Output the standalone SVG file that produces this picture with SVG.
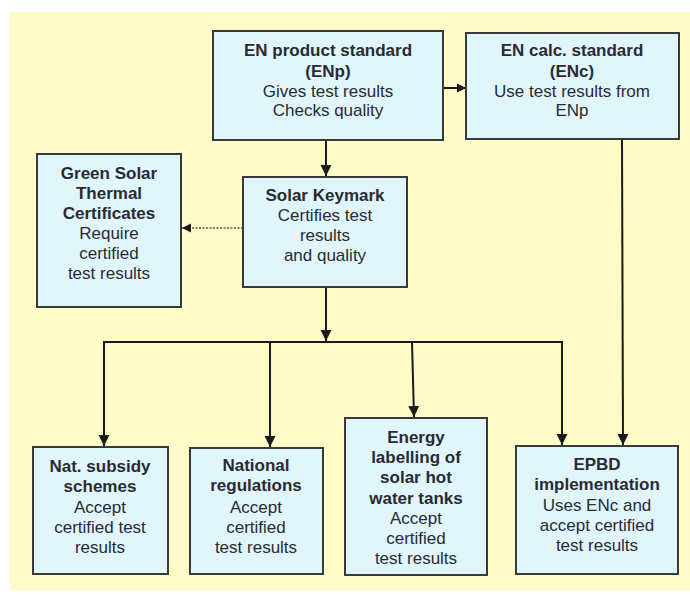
<svg xmlns="http://www.w3.org/2000/svg" width="690" height="595" viewBox="0 0 690 595">
<defs>
<marker id="ah" viewBox="0 0 10 10" refX="10" refY="5" markerUnits="userSpaceOnUse" markerWidth="11" markerHeight="12" orient="auto">
<path d="M0,0 L10,5 L0,10 z" fill="#1a1a1a"/>
</marker>
<marker id="ahs" viewBox="0 0 10 10" refX="10" refY="5" markerUnits="userSpaceOnUse" markerWidth="9" markerHeight="10" orient="auto">
<path d="M0,0 L10,5 L0,10 z" fill="#1a1a1a"/>
</marker>
<style>
.box{fill:#e0f6fb;stroke:#3a3a3a;stroke-width:2}
.t{font-family:"Liberation Sans",Arial,sans-serif;font-size:17px;fill:#2a2a35;text-anchor:middle}
.b{font-weight:bold}
.c{fill:none;stroke:#1a1a1a;stroke-width:2}
.d{fill:none;stroke:#555;stroke-width:1.5;stroke-dasharray:2 1.5}
</style>
</defs>
<rect x="10" y="12" width="680" height="578" fill="#fdfcc8"/>
<g id="connectors">
<line class="c" x1="443" y1="88" x2="466" y2="88" marker-end="url(#ahs)"/>
<line class="c" x1="326" y1="140" x2="326" y2="176" marker-end="url(#ah)"/>
<line class="d" x1="243" y1="228" x2="182" y2="228" marker-end="url(#ahs)"/>
<line class="c" x1="326" y1="287" x2="326" y2="341" marker-end="url(#ah)"/>
<polyline class="c" points="104,342 562,342 562,445" marker-end="url(#ah)"/>
<line class="c" x1="104" y1="341" x2="104" y2="446" marker-end="url(#ah)"/>
<line class="c" x1="270" y1="342" x2="270" y2="447" marker-end="url(#ah)"/>
<line class="c" x1="412" y1="342" x2="414" y2="417" marker-end="url(#ah)"/>
<line class="c" x1="622" y1="139" x2="623" y2="445" marker-end="url(#ah)"/>
</g>
<g id="enp">
<rect class="box" x="213" y="31" width="230" height="109"/>
<text class="t b" x="328" y="56">EN product standard</text>
<text class="t b" x="328" y="77">(ENp)</text>
<text class="t" x="328" y="97">Gives test results</text>
<text class="t" x="328" y="116">Checks quality</text>
</g>
<g id="enc">
<rect class="box" x="466" y="33" width="213" height="106"/>
<text class="t b" x="572" y="56">EN calc. standard</text>
<text class="t b" x="572" y="77">(ENc)</text>
<text class="t" x="572" y="97">Use test results from</text>
<text class="t" x="572" y="116">ENp</text>
</g>
<g id="keymark">
<rect class="box" x="243" y="177" width="164" height="110"/>
<text class="t b" x="325" y="201">Solar Keymark</text>
<text class="t" x="325" y="221">Certifies test</text>
<text class="t" x="325" y="241">results</text>
<text class="t" x="325" y="261">and quality</text>
</g>
<g id="green">
<rect class="box" x="37" y="154" width="144" height="153"/>
<text class="t b" x="109" y="179">Green Solar</text>
<text class="t b" x="109" y="199">Thermal</text>
<text class="t b" x="109" y="219">Certificates</text>
<text class="t" x="109" y="239">Require</text>
<text class="t" x="109" y="259">certified</text>
<text class="t" x="109" y="279">test results</text>
</g>
<g id="subsidy">
<rect class="box" x="33" y="447" width="135" height="127"/>
<text class="t b" x="100" y="472">Nat. subsidy</text>
<text class="t b" x="100" y="492">schemes</text>
<text class="t" x="100" y="513">Accept</text>
<text class="t" x="100" y="533">certified test</text>
<text class="t" x="100" y="553">results</text>
</g>
<g id="regulations">
<rect class="box" x="190" y="448" width="133" height="126"/>
<text class="t b" x="256" y="471">National</text>
<text class="t b" x="256" y="491">regulations</text>
<text class="t" x="256" y="513">Accept</text>
<text class="t" x="256" y="533">certified</text>
<text class="t" x="256" y="553">test results</text>
</g>
<g id="energy">
<rect class="box" x="345" y="418" width="142" height="157"/>
<text class="t b" x="416" y="443">Energy</text>
<text class="t b" x="416" y="463">labelling of</text>
<text class="t b" x="416" y="483">solar hot</text>
<text class="t b" x="416" y="504">water tanks</text>
<text class="t" x="416" y="524">Accept</text>
<text class="t" x="416" y="544">certified</text>
<text class="t" x="416" y="564">test results</text>
</g>
<g id="epbd">
<rect class="box" x="516" y="446" width="162" height="128"/>
<text class="t b" x="597" y="470">EPBD</text>
<text class="t b" x="597" y="490">implementation</text>
<text class="t" x="597" y="511">Uses ENc and</text>
<text class="t" x="597" y="531">accept certified</text>
<text class="t" x="597" y="551">test results</text>
</g>
</svg>
